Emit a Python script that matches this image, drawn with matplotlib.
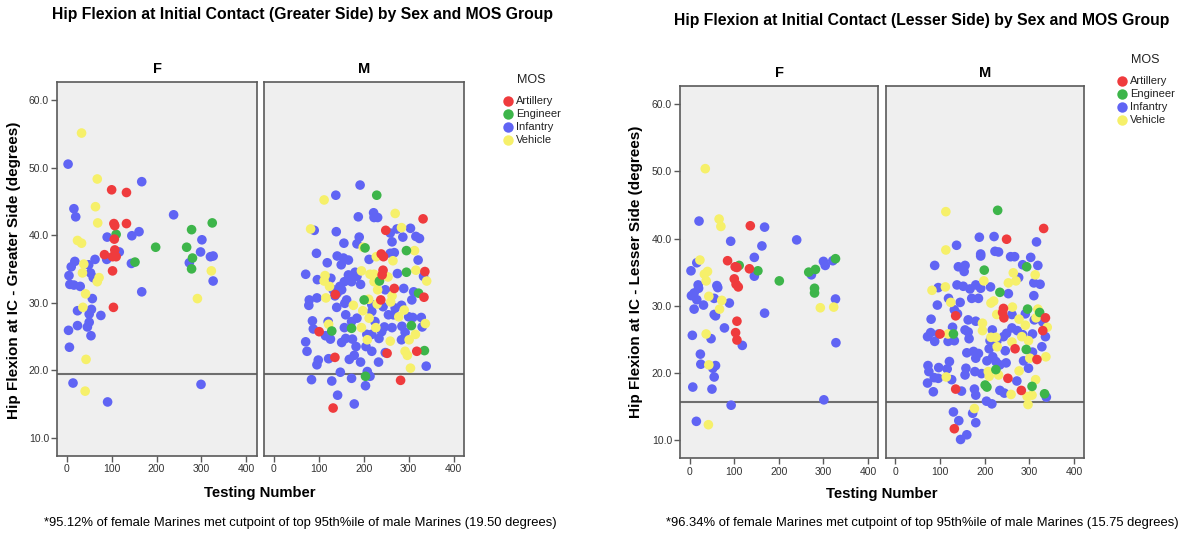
import matplotlib
matplotlib.use("Agg")
import matplotlib.pyplot as plt
from matplotlib.lines import Line2D

plt.rcParams["font.family"] = ["Liberation Sans", "DejaVu Sans"]

# ---------------- data: greater side ----------------
GF_ART_X = [100, 133, 105, 107, 133, 106, 107, 84, 102, 110, 102, 104]
GF_ART_Y = [46.7, 46.3, 41.7, 41.4, 41.7, 39.4, 37.8, 37.1, 36.8, 36.8, 34.7, 29.3]
GF_ENG_X = [278, 324, 110, 198, 267, 152, 280, 278]
GF_ENG_Y = [40.8, 41.8, 40.1, 38.2, 38.2, 36.0, 36.6, 35.0]
GF_INF_X = [3, 167, 238, 16, 20, 161, 145, 90, 301, 298, 117, 89, 63, 18, 10, 49, 144, 273,
            320, 326, 53, 5, 59, 326, 7, 16, 30, 167, 57, 24, 50, 55, 76, 50, 46, 24, 4, 54,
            6, 14, 299, 91]
GF_INF_Y = [50.5, 47.9, 43.0, 43.9, 42.7, 40.5, 39.9, 39.7, 39.3, 37.5, 37.5, 36.4, 36.4, 36.1,
            35.3, 35.6, 35.8, 35.9, 36.8, 36.9, 34.4, 34.0, 33.7, 33.2, 32.7, 32.6, 32.4, 31.6,
            30.6, 28.8, 28.3, 29.0, 28.1, 27.1, 26.4, 26.6, 25.9, 25.1, 23.4, 18.1, 17.9, 15.3]
GF_VEH_X = [33, 68, 64, 69, 24, 33, 38, 322, 35, 72, 68, 42, 291, 36, 43, 41]
GF_VEH_Y = [55.1, 48.3, 44.2, 41.8, 39.2, 38.8, 35.7, 34.7, 34.4, 33.7, 33.1, 31.3, 30.6, 29.3,
            21.6, 16.9]

GM_ART_X = [332, 249, 239, 244, 243, 241, 336, 137, 268, 334, 238, 101, 252, 318, 136, 282, 132]
GM_ART_Y = [42.4, 40.7, 37.2, 36.8, 34.8, 34.1, 34.6, 31.2, 32.1, 30.8, 30.4, 25.7, 22.5, 22.8,
            21.9, 18.5, 14.4]
GM_ENG_X = [229, 203, 295, 235, 295, 322, 201, 129, 173, 306, 335, 204]
GM_ENG_Y = [45.9, 38.1, 37.7, 33.2, 34.5, 31.4, 30.4, 25.8, 26.2, 26.6, 22.9, 19.1]
GM_INF_X = [192, 138, 222, 223, 231, 188, 90, 139, 259, 274, 304, 287, 316, 324, 190, 185, 156,
            263, 95, 141, 155, 166, 150, 259, 268, 321, 119, 212, 71, 97, 127, 181, 168, 157,
            147, 173, 193, 275, 333, 132, 141, 136, 248, 289, 311, 307, 79, 78, 96, 162, 158,
            284, 140, 218, 243, 160, 185, 255, 266, 300, 309, 328, 86, 121, 88, 157, 246, 263,
            285, 330, 115, 126, 151, 160, 175, 207, 218, 234, 284, 292, 71, 74, 183, 205, 218,
            248, 99, 96, 122, 168, 179, 193, 233, 339, 148, 208, 214, 84, 129, 173, 204, 142,
            179, 166, 185, 151, 218, 225, 270, 173, 240]
GM_INF_Y = [47.4, 45.9, 43.3, 42.6, 42.6, 42.7, 40.7, 40.5, 40.3, 40.9, 41.0, 39.7, 39.8, 39.5,
            39.7, 38.7, 38.8, 39.0, 37.3, 36.9, 36.6, 36.3, 35.6, 37.3, 37.4, 36.3, 35.9, 36.4,
            34.2, 33.4, 33.6, 34.5, 33.4, 33.1, 32.4, 33.1, 32.7, 34.3, 33.9, 31.9, 31.4, 31.0,
            31.9, 32.1, 31.6, 30.4, 30.4, 29.6, 30.7, 30.4, 29.9, 29.6, 29.3, 29.7, 29.4, 28.2,
            27.7, 28.2, 28.2, 27.9, 27.8, 27.8, 27.3, 27.2, 26.1, 26.3, 26.4, 26.3, 26.5, 26.4,
            25.1, 24.6, 24.1, 24.7, 24.6, 25.3, 25.3, 24.7, 24.5, 25.6, 24.2, 22.8, 23.5, 23.5,
            22.8, 22.6, 21.5, 20.8, 21.7, 21.6, 22.2, 21.2, 21.2, 20.6, 19.7, 19.8, 19.1, 18.6,
            18.4, 18.8, 17.7, 16.3, 15.0, 34.1, 33.9, 31.9, 28.7, 27.2, 29.2, 27.2, 25.7]
GM_VEH_X = [112, 270, 82, 284, 199, 228, 313, 265, 114, 112, 124, 195, 214, 223, 223, 254, 316,
            340, 231, 116, 211, 263, 260, 290, 177, 198, 230, 212, 337, 278, 122, 195, 227, 208,
            259, 301, 315, 292, 297, 304]
GM_VEH_Y = [45.2, 43.2, 40.9, 41.1, 38.2, 36.8, 37.7, 36.2, 34.0, 33.2, 32.4, 34.7, 34.2, 34.2,
            33.1, 33.8, 34.8, 33.2, 31.9, 30.7, 30.5, 31.0, 30.1, 28.9, 29.6, 28.8, 29.8, 27.7,
            26.9, 27.9, 26.8, 26.3, 26.3, 24.5, 24.3, 24.5, 25.3, 22.8, 22.2, 20.3]

# ---------------- data: lesser side ----------------
LF_ART_X = [136, 85, 102, 106, 134, 100, 104, 109, 106, 103, 106]
LF_ART_Y = [41.9, 36.7, 35.8, 35.7, 35.5, 34.0, 33.2, 32.8, 27.7, 26.0, 24.9]
LF_ENG_X = [111, 153, 327, 282, 267, 201, 280, 280]
LF_ENG_Y = [36.0, 35.2, 37.0, 35.4, 35.0, 33.7, 32.6, 31.9]
LF_INF_X = [21, 168, 92, 240, 162, 145, 16, 3, 145, 300, 304, 321, 273, 61, 63, 19, 20, 10, 55,
            327, 16, 4, 31, 10, 89, 55, 58, 168, 78, 6, 48, 118, 328, 24, 25, 58, 52, 55, 7, 50,
            301, 93, 15]
LF_INF_Y = [42.6, 41.7, 39.6, 39.8, 38.9, 37.2, 36.4, 35.2, 34.4, 36.6, 36.0, 36.7, 34.6, 33.0,
            32.7, 33.1, 32.6, 31.9, 31.1, 31.0, 30.9, 31.5, 30.1, 29.5, 30.4, 28.7, 28.5, 28.9,
            26.7, 25.6, 25.1, 24.1, 24.5, 22.8, 21.3, 21.1, 20.7, 19.4, 17.9, 17.6, 16.0, 15.2,
            12.8]
LF_VEH_X = [35, 66, 70, 23, 40, 33, 37, 43, 72, 67, 293, 323, 37, 43, 42]
LF_VEH_Y = [50.4, 42.9, 41.8, 36.8, 35.1, 34.7, 33.7, 31.4, 30.8, 29.5, 29.7, 29.8, 25.8, 21.2,
            12.3]

LM_ART_X = [332, 249, 135, 242, 240, 243, 336, 330, 100, 268, 317, 252, 135, 282, 132]
LM_ART_Y = [41.5, 39.9, 28.5, 29.6, 29.0, 28.2, 28.2, 26.3, 25.8, 23.6, 22.0, 19.2, 17.6, 17.4,
            11.7]
LM_ENG_X = [229, 199, 294, 234, 296, 323, 130, 293, 225, 201, 205, 306, 334]
LM_ENG_Y = [44.2, 35.3, 35.8, 32.0, 29.5, 29.0, 25.8, 23.5, 20.5, 18.2, 17.9, 18.0, 16.9]
LM_INF_X = [188, 221, 316, 137, 191, 191, 223, 231, 258, 267, 303, 88, 141, 156, 154, 285, 319,
            276, 96, 138, 152, 167, 180, 191, 213, 310, 324, 253, 310, 119, 171, 186, 94, 145,
            132, 139, 261, 291, 311, 330, 163, 180, 80, 128, 156, 163, 217, 261, 249, 273, 285,
            307, 336, 72, 79, 97, 118, 132, 88, 165, 212, 227, 242, 328, 307, 246, 210, 160,
            175, 186, 180, 121, 205, 218, 225, 248, 287, 73, 75, 97, 116, 158, 156, 178, 193,
            234, 298, 87, 96, 126, 272, 72, 85, 148, 177, 180, 234, 244, 338, 204, 216, 173,
            130, 180, 142, 160, 146]
LM_INF_Y = [40.2, 40.3, 39.5, 39.0, 37.7, 37.4, 38.1, 38.0, 37.3, 37.3, 37.2, 36.0, 35.8, 36.0,
            35.1, 36.1, 36.0, 34.2, 32.7, 33.1, 32.9, 32.5, 33.1, 32.6, 32.8, 33.4, 33.2, 31.8,
            31.5, 31.1, 31.1, 31.1, 30.1, 30.5, 29.4, 28.8, 28.7, 28.8, 27.9, 27.6, 27.9, 27.7,
            28.0, 26.8, 26.4, 26.1, 26.4, 26.7, 25.9, 26.3, 25.7, 25.8, 25.4, 25.4, 26.0, 25.8,
            24.7, 24.8, 24.7, 25.1, 24.8, 24.7, 25.4, 23.9, 23.1, 23.3, 23.6, 23.0, 23.2, 22.9,
            22.2, 21.7, 21.8, 22.4, 21.7, 21.5, 21.8, 21.1, 20.2, 20.8, 20.6, 20.7, 19.7, 20.2,
            19.9, 21.2, 20.7, 19.3, 19.2, 19.0, 18.8, 18.5, 17.2, 17.3, 17.6, 16.7, 17.4, 17.0,
            16.4, 15.8, 15.4, 14.0, 14.2, 12.6, 12.9, 10.8, 10.1]
LM_VEH_X = [113, 113, 264, 313, 270, 253, 198, 112, 82, 124, 214, 220, 227, 262, 319, 277, 315,
            291, 340, 195, 195, 118, 214, 225, 261, 283, 298, 228, 301, 337, 208, 210, 231, 277,
            114, 314, 259, 295, 306, 297, 177]
LM_VEH_Y = [44.0, 38.3, 34.9, 34.6, 33.7, 33.4, 33.7, 32.8, 32.3, 30.5, 30.4, 30.7, 28.7, 29.8,
            29.5, 28.0, 28.2, 27.1, 26.8, 27.4, 26.3, 25.8, 25.3, 25.3, 24.6, 25.4, 24.8, 23.9,
            22.2, 22.4, 20.2, 19.5, 19.7, 20.3, 19.4, 19.0, 16.8, 16.5, 16.7, 15.3, 14.7]

MOS_GROUPS = ["Artillery", "Engineer", "Infantry", "Vehicle"]
SEXES = ["F", "M"]
CUTPOINTS = [19.50, 15.75]
PCT_MET = [95.12, 96.34]
SIDES = ["Greater", "Lesser"]
X_TICKS = [0, 100, 200, 300, 400]
Y_TICKS = [10, 20, 30, 40, 50, 60]

# ---------------- styling ----------------
W, H = 1178, 533
COLORS = {"Artillery": "#EF3B3D", "Engineer": "#3DB54A",
          "Infantry": "#6064F4", "Vehicle": "#F6F06A"}
PANEL_BG = "#EFEFEF"
FRAME = "#5A5A5A"
TICK_COLOR = "#333333"

series = {
    ("Greater", "F"): {"Artillery": (GF_ART_X, GF_ART_Y), "Engineer": (GF_ENG_X, GF_ENG_Y),
                       "Infantry": (GF_INF_X, GF_INF_Y), "Vehicle": (GF_VEH_X, GF_VEH_Y)},
    ("Greater", "M"): {"Artillery": (GM_ART_X, GM_ART_Y), "Engineer": (GM_ENG_X, GM_ENG_Y),
                       "Infantry": (GM_INF_X, GM_INF_Y), "Vehicle": (GM_VEH_X, GM_VEH_Y)},
    ("Lesser", "F"): {"Artillery": (LF_ART_X, LF_ART_Y), "Engineer": (LF_ENG_X, LF_ENG_Y),
                      "Infantry": (LF_INF_X, LF_INF_Y), "Vehicle": (LF_VEH_X, LF_VEH_Y)},
    ("Lesser", "M"): {"Artillery": (LM_ART_X, LM_ART_Y), "Engineer": (LM_ENG_X, LM_ENG_Y),
                      "Infantry": (LM_INF_X, LM_INF_Y), "Vehicle": (LM_VEH_X, LM_VEH_Y)},
}

fig = plt.figure(figsize=(W / 100, H / 100), dpi=100)


def fx(px):
    return px / W


def fy(py):
    return 1 - py / H


def add_panel(left, right, top, bottom):
    return fig.add_axes([fx(left), fy(bottom), fx(right - left), (bottom - top) / H])


# pixel layout of each chart
layouts = [
    dict(panels=[(57.3, 256.7), (264.3, 464.0)], top=81.7, bottom=456.0,
         title=(302, 15), ylabel_x=14, ylabel_y=270, xlabel=(260, 493), strip_y=69,
         foot=(300, 523), legend=(507.5, 80, 100.5, 13.3)),
    dict(panels=[(680.3, 878.3), (886.0, 1084.3)], top=86.0, bottom=458.3,
         title=(922, 20), ylabel_x=636, ylabel_y=272, xlabel=(882, 494), strip_y=73,
         foot=(922, 523), legend=(1121.5, 60, 80.5, 13.3)),
]

draw_order = ["Infantry", "Vehicle", "Engineer", "Artillery"]

for side, cut, pct, lay in zip(SIDES, CUTPOINTS, PCT_MET, layouts):
    for i, (sex, (l, r)) in enumerate(zip(SEXES, lay["panels"])):
        ax = add_panel(l, r, lay["top"], lay["bottom"])
        ax.set_facecolor(PANEL_BG)
        for mos in draw_order:
            xs, ys = series[(side, sex)][mos]
            ax.scatter(xs, ys, s=48, color=COLORS[mos], edgecolors="none", zorder=3)
        ax.axhline(cut, color="#6E6E6E", lw=1.5, zorder=2)
        ax.set_xlim(-21, 423)
        ax.set_ylim(7.3, 62.7)
        ax.set_xticks(X_TICKS)
        ax.set_xticklabels([str(t) for t in X_TICKS])
        ax.set_yticks(Y_TICKS)
        if i == 0:
            ax.set_yticklabels([f"{t:.1f}" for t in Y_TICKS])
        else:
            ax.tick_params(axis="y", left=False, labelleft=False)
        ax.tick_params(length=4, width=1, color=FRAME, labelsize=7.5,
                       labelcolor=TICK_COLOR, pad=2)
        for sp in ax.spines.values():
            sp.set_color(FRAME)
            sp.set_linewidth(1.2)
        fig.text(fx((l + r) / 2), fy(lay["strip_y"]), sex, ha="center", va="center",
                 fontsize=10.5, fontweight="bold")

    tx, ty = lay["title"]
    fig.text(fx(tx), fy(ty), f"Hip Flexion at Initial Contact ({side} Side) by Sex and MOS Group",
             ha="center", va="center", fontsize=11.3, fontweight="bold")
    fig.text(fx(lay["ylabel_x"]), fy(lay["ylabel_y"]),
             f"Hip Flexion at IC - {side} Side (degrees)", rotation=90,
             ha="center", va="center", fontsize=11, fontweight="bold")
    xx, xy = lay["xlabel"]
    fig.text(fx(xx), fy(xy), "Testing Number", ha="center", va="center",
             fontsize=10.7, fontweight="bold")
    fx0, fy0 = lay["foot"]
    fig.text(fx(fx0), fy(fy0),
             f"*{pct:.2f}% of female Marines met cutpoint of top 95th%ile of male Marines "
             f"({cut:.2f} degrees)", ha="center", va="center", fontsize=9.4)

    mx, title_y, first_y, step = lay["legend"]
    fig.text(fx(mx + 9), fy(title_y), "MOS", ha="left", va="center", fontsize=9,
             color="#222222")
    for k, mos in enumerate(MOS_GROUPS):
        yy = first_y + k * step
        fig.add_artist(Line2D([fx(mx)], [fy(yy)], marker="o", markersize=7.5, linestyle="none",
                              markerfacecolor=COLORS[mos], markeredgecolor="none",
                              transform=fig.transFigure))
        fig.text(fx(mx + 8.5), fy(yy), mos, ha="left", va="center", fontsize=8,
                 color="#222222")

fig.savefig("out.png", dpi=100)
